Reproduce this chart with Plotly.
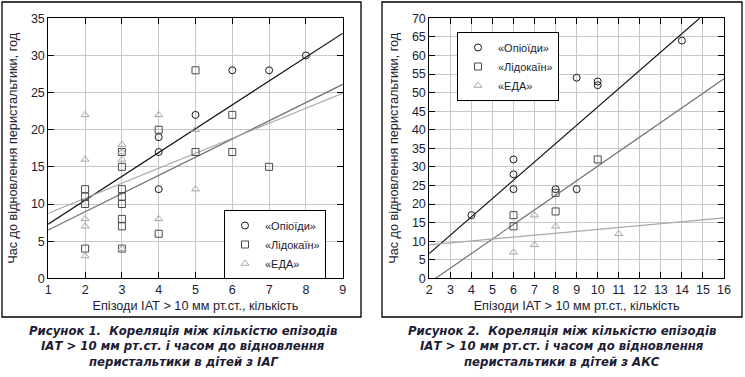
import plotly.graph_objects as go

W, H = 745, 377

# ---------------- data: Figure 1 (IAG) ----------------
f1_opi_x = [4, 4, 4, 5, 6, 7, 8]
f1_opi_y = [19, 17, 12, 22, 28, 28, 30]
f1_lid_x = [2, 2, 2, 2, 3, 3, 3, 3, 3, 3, 3, 3, 4, 4, 5, 5, 6, 6, 7]
f1_lid_y = [12, 11, 10, 4, 17, 15, 12, 11, 10, 8, 7, 4, 20, 6, 28, 17, 22, 17, 15]
f1_eda_x = [2, 2, 2, 2, 2, 3, 3, 3, 3, 4, 4, 5, 5]
f1_eda_y = [22, 16, 8, 7, 3, 18, 17, 16, 4, 22, 8, 20, 12]
# regression lines (intercept, slope)
f1_fit = {"opi": (4.09, 3.21), "lid": (4.05, 2.45), "eda": (6.73, 2.02)}

# ---------------- data: Figure 2 (AKS) ----------------
f2_opi_x = [4, 6, 6, 6, 8, 9, 9, 10, 10, 14]
f2_opi_y = [17, 32, 28, 24, 24, 24, 54, 53, 52, 64]
f2_lid_x = [6, 6, 8, 8, 10]
f2_lid_y = [17, 14, 23, 18, 32]
f2_eda_x = [6, 7, 7, 8, 11]
f2_eda_y = [7, 17, 9, 14, 12]
f2_fit = {"opi": (-3.16, 4.93), "lid": (-9.02, 3.92), "eda": (7.96, 0.521)}

names = {"opi": "«Опіоїди»", "lid": "«Лідокаїн»", "eda": "«ЕДА»"}
symbols = {"opi": "circle-open", "lid": "square-open", "eda": "triangle-up-open"}
mcolors = {"opi": "#1a1a1a", "lid": "#4a4a4a", "eda": "#a8a8a8"}
lcolors = {"opi": "#111111", "lid": "#707070", "eda": "#a8a8a8"}

x1_range = [1, 9]
y1_range = [0, 35]
x2_range = [2, 16]
y2_range = [0, 70]

xtitle = "Епізоди ІАТ > 10 мм рт.ст., кількість"
ytitle = "Час до відновлення перистальтики, год"
cap1 = ["Рисунок 1.  Кореляція між кількістю епізодів",
        "ІАТ > 10 мм рт.ст. і часом до відновлення",
        "перистальтики в дітей з ІАГ"]
cap2 = ["Рисунок 2.  Кореляція між кількістю епізодів",
        "ІАТ > 10 мм рт.ст. і часом до відновлення",
        "перистальтики в дітей з АКС"]

TXT = "#1c1c34"
FONT = "Liberation Sans, Arial, Helvetica, sans-serif"

fig = go.Figure()

def add_panel(data, fit, xr, xa, ya, legend):
    for key in ["opi", "lid", "eda"]:
        b0, b1 = fit[key]
        lx = [xr[0] - 1, xr[1] + 1]
        fig.add_trace(go.Scatter(
            x=lx, y=[b0 + b1 * v for v in lx], mode="lines",
            line=dict(color=lcolors[key], width=1.2),
            xaxis=xa, yaxis=ya, showlegend=False, hoverinfo="skip"))
    for key in ["opi", "lid", "eda"]:
        xs, ys = data[key]
        fig.add_trace(go.Scatter(
            x=xs, y=ys, mode="markers", name=names[key],
            marker=dict(symbol=symbols[key], size=7, color=mcolors[key],
                        line=dict(width=1, color=mcolors[key])),
            xaxis=xa, yaxis=ya, legend=legend))

add_panel({"opi": (f1_opi_x, f1_opi_y), "lid": (f1_lid_x, f1_lid_y),
           "eda": (f1_eda_x, f1_eda_y)}, f1_fit, x1_range, "x", "y", "legend")
add_panel({"opi": (f2_opi_x, f2_opi_y), "lid": (f2_lid_x, f2_lid_y),
           "eda": (f2_eda_x, f2_eda_y)}, f2_fit, x2_range, "x2", "y2", "legend2")

def px_x(p):
    return p / W

def px_y(p):
    return 1 - p / H

axis_common = dict(
    showline=True, linecolor="black", linewidth=1, mirror="allticks",
    ticks="inside", ticklen=6, tickcolor="black", tickwidth=1,
    showgrid=True, gridcolor="#c8c8c8", gridwidth=1, zeroline=False,
    automargin=False,
    tickfont=dict(family=FONT, size=12.5, color=TXT),
)
ydom = [px_y(278.3), px_y(18.3)]
TF = dict(size=12.7, color=TXT)

fig.update_layout(
    width=W, height=H, margin=dict(l=0, r=0, t=0, b=0, autoexpand=False),
    paper_bgcolor="white", plot_bgcolor="white",
    font=dict(family=FONT, color=TXT, size=12),
    xaxis=dict(domain=[px_x(48.3), px_x(342.7)], range=x1_range, dtick=1,
               anchor="y", title=dict(text=xtitle, font=TF, standoff=4),
               **axis_common),
    yaxis=dict(domain=ydom, range=y1_range, dtick=5, anchor="x",
               title=dict(text=ytitle, font=TF, standoff=10),
               **axis_common),
    xaxis2=dict(domain=[px_x(429.3), px_x(724)], range=x2_range, dtick=1,
                anchor="y2", title=dict(text=xtitle, font=TF, standoff=4),
                **axis_common),
    yaxis2=dict(domain=ydom, range=y2_range, dtick=5, anchor="x2",
                title=dict(text=ytitle, font=TF, standoff=10),
                **axis_common),
    legend=dict(x=px_x(224), y=px_y(210), xanchor="left", yanchor="top",
                bgcolor="white", bordercolor="black", borderwidth=1,
                font=dict(family=FONT, size=11, color=TXT),
                itemwidth=30, tracegroupgap=0),
    legend2=dict(x=px_x(457), y=px_y(32), xanchor="left", yanchor="top",
                 bgcolor="white", bordercolor="black", borderwidth=1,
                 font=dict(family=FONT, size=11, color=TXT),
                 itemwidth=30, tracegroupgap=0),
)

# outer frames
for x0, x1 in [(2, 361), (382, 742)]:
    fig.add_shape(type="rect", xref="paper", yref="paper",
                  x0=px_x(x0), x1=px_x(x1), y0=px_y(317), y1=px_y(2),
                  line=dict(color="black", width=1.3), fillcolor="rgba(0,0,0,0)")

CAPFONT = "Liberation Sans Narrow, DejaVu Sans Condensed, Arial Narrow, sans-serif"
for cx, lines in [(183, cap1), (562, cap2)]:
    for i, t in enumerate(lines):
        fig.add_annotation(
            x=px_x(cx), y=px_y(330 + 15.5 * i), xref="paper", yref="paper",
            text="<b><i>" + t + "</i></b>", showarrow=False,
            xanchor="center", yanchor="middle",
            font=dict(family=CAPFONT, size=13, color=TXT))

fig.write_html("out.html", config={"displayModeBar": False},
               post_script="document.body.style.margin='0';document.body.style.padding='0';")
